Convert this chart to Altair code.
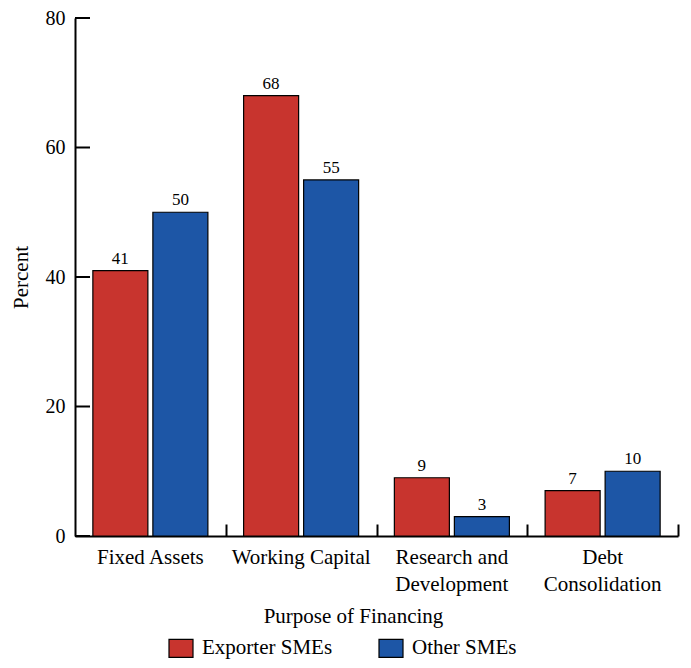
import altair as alt
import pandas as pd

categories = ["Fixed Assets", "Working Capital", "Research and Development", "Debt Consolidation"]
groups = ["Exporter SMEs", "Other SMEs"]
exporter = [41, 68, 9, 7]
other = [50, 55, 3, 10]
colors = ["#C8342E", "#1D56A6"]
y_ticks = [0, 20, 40, 60, 80]

rows = []
for c, e, o in zip(categories, exporter, other):
    rows.append({"cat": c, "group": groups[0], "value": e})
    rows.append({"cat": c, "group": groups[1], "value": o})
df = pd.DataFrame(rows)
ticks_df = pd.DataFrame({"value": y_ticks})

W, H = 603, 518
STEP = W / len(categories)
font = "Liberation Serif"

xscale = alt.Scale(domain=categories, paddingInner=0.237, paddingOuter=0.1185)
yscale = alt.Scale(domain=[0, 80], nice=False)
off_scale = alt.Scale(domain=groups, paddingInner=1 / 12, paddingOuter=0)
label_expr = ("datum.label == 'Research and Development' ? ['Research and', 'Development'] : "
              "datum.label == 'Debt Consolidation' ? ['Debt', 'Consolidation'] : datum.label")

y_axis = alt.Axis(values=y_ticks, title="Percent", ticks=False, grid=False,
                  domainColor="black", domainWidth=2,
                  labelFont=font, labelFontSize=20, labelColor="black", labelPadding=10,
                  titleFont=font, titleFontSize=21, titleFontWeight="normal",
                  titleColor="black", titlePadding=14)
Y = alt.Y("value:Q", scale=yscale, axis=y_axis)
XO = alt.XOffset("group:N", scale=off_scale, sort=groups)

base = alt.Chart(df)
bars = base.mark_bar(stroke="black", strokeWidth=1.2).encode(
    x=alt.X("cat:N", scale=xscale, sort=categories, axis=alt.Axis(
        title="Purpose of Financing", orient="bottom", labelExpr=label_expr, labelAngle=0,
        ticks=False, grid=False, domainColor="black", domainWidth=2,
        labelFont=font, labelFontSize=21, labelColor="black",
        labelPadding=10, labelLineHeight=27, labelBaseline="top",
        titleFont=font, titleFontSize=21, titleFontWeight="normal", titleColor="black",
        titleX=278, titleY=80, titleBaseline="middle")),
    xOffset=XO,
    y=Y,
    color=alt.Color("group:N", scale=alt.Scale(domain=groups, range=colors), legend=alt.Legend(
        title=None, orient="none", legendX=93, legendY=617, direction="horizontal",
        symbolType="M-1,-0.75H1V0.75H-1Z", symbolSize=576, symbolStrokeColor="black",
        symbolStrokeWidth=1.2, symbolOpacity=1, labelFont=font, labelFontSize=21,
        labelColor="black", labelOffset=8, columnPadding=43, padding=0)),
)

text = base.mark_text(dy=-7, baseline="alphabetic", font=font, fontSize=17, color="black").encode(
    x=alt.X("cat:N", scale=xscale, sort=categories, axis=alt.Axis(
        orient="top", offset=-H, tickOffset=STEP / 2, labels=False, domain=False,
        ticks=True, tickSize=12, tickWidth=2, tickColor="black", title=None, grid=False)),
    xOffset=XO,
    y=Y,
    text="value:Q",
)

rules = alt.Chart(ticks_df).mark_rule(color="black", strokeWidth=2).encode(
    y=Y, x=alt.value(0), x2=alt.value(15)
)

chart = alt.layer(bars, text, rules).resolve_axis(x="independent").properties(
    width=W, height=H,
    padding={"left": 67, "top": 10, "right": 5, "bottom": 124},
    autosize=alt.AutoSizeParams(type="none"),
    background="white",
).configure_view(stroke=None)

chart.save("out.html", embed_options={"renderer": "svg", "actions": False})
